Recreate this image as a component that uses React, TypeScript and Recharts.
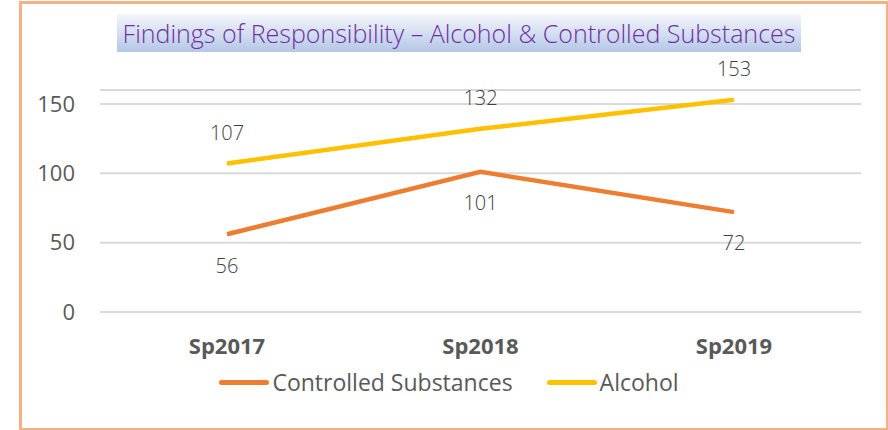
import { LineChart, Line, XAxis, YAxis, CartesianGrid, Legend, LabelList } from 'recharts';

const terms = ['Sp2017', 'Sp2018', 'Sp2019'];
const controlled = [56, 101, 72];
const alcohol = [107, 132, 153];
const yTicks = [0, 50, 100, 150];

const data = terms.map((term, i) => ({
  term,
  controlled: controlled[i],
  alcohol: alcohol[i],
}));

const FONT = '"Open Sans", sans-serif';
const ORANGE = '#ED7D31';
const GOLD = '#FFC000';

function LegendRow() {
  const items = [
    { label: 'Controlled Substances', color: ORANGE },
    { label: 'Alcohol', color: GOLD },
  ];
  return (
    <div style={{ display: 'flex', justifyContent: 'center', gap: 34, fontFamily: FONT, fontSize: 23, color: '#595959', lineHeight: '28px', paddingLeft: 10 }}>
      {items.map(it => (
        <div key={it.label} style={{ display: 'flex', alignItems: 'center' }}>
          <span style={{ display: 'inline-block', width: 50, height: 5, borderRadius: 3, background: it.color, marginRight: 3 }} />
          <span>{it.label}</span>
        </div>
      ))}
    </div>
  );
}

export default function App() {
  return (
    <div style={{ position: 'absolute', left: 0, top: 0, width: 888, height: 430, background: '#fff' }}>
      {/* frame */}
      <div style={{ position: 'absolute', left: 19, top: 1, width: 864, height: 424, border: '3px solid #F4B183' }} />

      {/* title banner */}
      <div style={{
        position: 'absolute', left: 117, top: 14, width: 684, height: 38,
        background: 'linear-gradient(#f4f6fb, #b4c7e7)',
        color: '#7030A0', fontFamily: FONT, fontSize: 25, fontWeight: 300,
        display: 'flex', alignItems: 'center', justifyContent: 'center', whiteSpace: 'nowrap',
      }}>
        Findings of Responsibility – Alcohol &amp; Controlled Substances
      </div>

      <div style={{ position: 'absolute', left: 0, top: 0 }}>
        <LineChart width={888} height={430} data={data} margin={{ top: 90, right: 27, bottom: 50, left: 20 }}>
          <CartesianGrid horizontal vertical={false} stroke="#D9D9D9" strokeWidth={2} />
          <XAxis
            dataKey="term"
            padding={{ left: 127, right: 127 }}
            tickLine={false}
            axisLine={{ stroke: '#D9D9D9', strokeWidth: 2 }}
            tickSize={0}
            tickMargin={26}
            height={40}
            tick={{ fontFamily: FONT, fontSize: 22, fontWeight: 700, fill: '#595959' }}
          />
          <YAxis
            domain={[0, 160]}
            ticks={yTicks}
            width={80}
            tickLine={false}
            axisLine={false}
            tickSize={0}
            tickMargin={25}
            tick={{ fontFamily: FONT, fontSize: 22, fill: '#595959' }}
          />
          <Legend
            verticalAlign="bottom"
            content={() => <LegendRow />}
            wrapperStyle={{ position: 'absolute', top: 368, left: 0, width: 888 }}
          />
          <Line dataKey="controlled" name="Controlled Substances" stroke={ORANGE} strokeWidth={4.5} dot={false} isAnimationActive={false}>
            <LabelList dataKey="controlled" position="bottom" offset={24} style={{ fontFamily: FONT, fontSize: 20, fontWeight: 300, fill: '#404040' }} />
          </Line>
          <Line dataKey="alcohol" name="Alcohol" stroke={GOLD} strokeWidth={4.5} dot={false} isAnimationActive={false}>
            <LabelList dataKey="alcohol" position="top" offset={24} style={{ fontFamily: FONT, fontSize: 20, fontWeight: 300, fill: '#404040' }} />
          </Line>
        </LineChart>
      </div>
    </div>
  );
}
